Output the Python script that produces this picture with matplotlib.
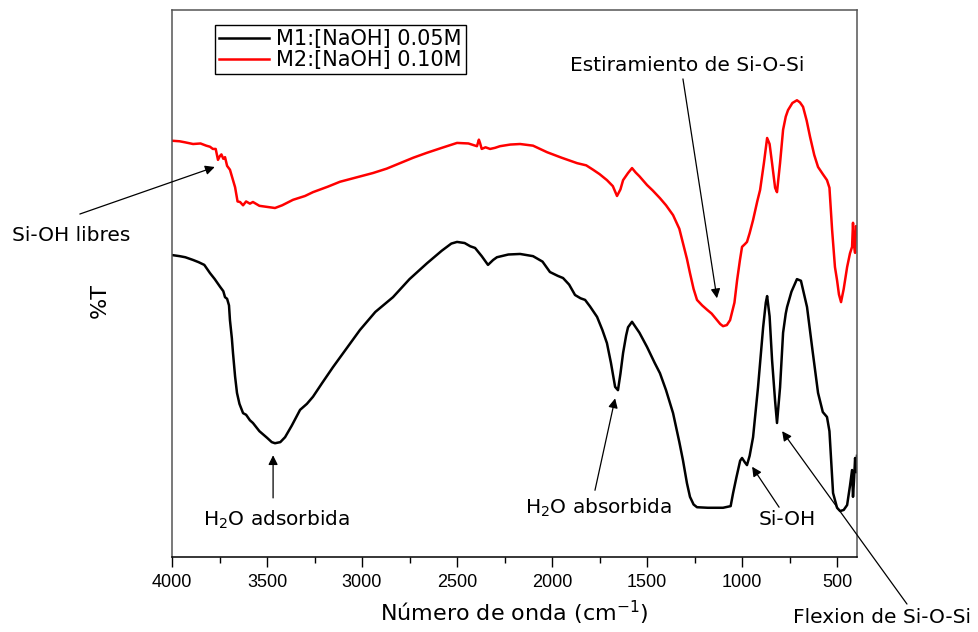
import matplotlib
matplotlib.use("Agg")
import matplotlib.pyplot as plt
from matplotlib.ticker import MultipleLocator

# ---- data (wavenumber cm^-1, %T arbitrary units) ----
m1_wn = [4000, 3960, 3930, 3889, 3860, 3830, 3800, 3775, 3747, 3730, 3721, 3710,
         3700, 3695, 3685, 3679, 3668, 3658, 3645, 3626, 3610, 3590, 3574, 3540,
         3500, 3475, 3458, 3430, 3405, 3370, 3326, 3290, 3258, 3210, 3153, 3080,
         3011, 2930, 2837, 2750, 2658, 2580, 2530, 2500, 2460, 2430, 2405, 2370,
         2337, 2310, 2290, 2230, 2168, 2100, 2050, 2011, 1970, 1942, 1910, 1879,
         1850, 1826, 1800, 1763, 1735, 1711, 1690, 1668, 1653, 1640, 1626, 1610,
         1600, 1579, 1540, 1500, 1460, 1432, 1400, 1363, 1330, 1311, 1290, 1274,
         1255, 1237, 1180, 1100, 1060, 1047, 1030, 1010, 1000, 985, 974, 960,
         942, 916, 889, 875, 868, 855, 842, 826, 816, 800, 784, 770, 763, 740,
         711, 690, 658, 630, 600, 575, 553, 540, 521, 500, 484, 465, 447, 432,
         421, 416, 410, 405, 398, 395]
m1_t = [55.2, 55.0, 54.8, 54.3, 53.9, 53.4, 51.9, 50.8, 49.4, 48.6, 47.5, 47.2,
        46.0, 43.3, 40.0, 37.3, 33.0, 30.0, 28.0, 26.3, 26.0, 25.0, 24.5, 23.0,
        21.8, 21.0, 20.8, 21.0, 21.9, 24.0, 26.9, 28.0, 29.3, 31.8, 34.7, 38.2,
        41.5, 44.8, 47.5, 50.8, 53.7, 56.0, 57.3, 57.6, 57.4, 56.8, 56.5, 55.0,
        53.4, 54.3, 54.8, 55.3, 55.4, 55.0, 54.0, 52.1, 51.4, 51.0, 49.8, 47.9,
        47.3, 47.0, 45.8, 43.9, 41.5, 39.1, 35.5, 31.1, 30.5, 33.5, 37.3, 40.5,
        42.0, 43.0, 41.0, 38.4, 35.5, 33.6, 30.5, 26.3, 21.0, 17.7, 13.5, 11.0,
        9.6, 9.1, 9.0, 9.0, 9.3, 11.7, 14.5, 17.6, 18.1, 17.3, 16.8, 18.5,
        21.9, 31.0, 42.0, 46.5, 47.7, 44.0, 36.0, 28.5, 24.5, 31.0, 41.0, 44.5,
        45.7, 48.5, 50.8, 50.5, 45.7, 38.0, 30.0, 26.5, 25.6, 23.0, 11.7, 9.0,
        8.4, 8.6, 9.5, 13.0, 15.9, 11.0, 14.5, 18.1, 15.5, 18.5]

m2_wn = [4000, 3960, 3930, 3889, 3850, 3820, 3800, 3785, 3770, 3758, 3748, 3740,
         3730, 3721, 3710, 3695, 3680, 3668, 3655, 3642, 3626, 3610, 3590, 3574,
         3540, 3500, 3458, 3420, 3363, 3300, 3258, 3180, 3116, 3030, 2942, 2870,
         2800, 2730, 2658, 2580, 2500, 2440, 2395, 2385, 2379, 2370, 2350, 2326,
         2300, 2274, 2220, 2168, 2100, 2026, 1950, 1868, 1820, 1784, 1750, 1711,
         1680, 1658, 1640, 1626, 1600, 1579, 1560, 1540, 1500, 1470, 1432, 1400,
         1363, 1330, 1311, 1290, 1274, 1255, 1237, 1210, 1184, 1160, 1132, 1115,
         1100, 1080, 1063, 1040, 1026, 1011, 1000, 985, 974, 960, 942, 920,
         905, 885, 868, 855, 842, 826, 816, 800, 784, 770, 758, 735, 711, 695,
         679, 660, 642, 620, 600, 575, 553, 540, 526, 511, 500, 490, 479, 465,
         447, 432, 421, 416, 411, 405, 400, 395]
m2_t = [76.1, 76.0, 75.8, 75.5, 75.6, 75.2, 75.0, 74.6, 74.6, 72.6, 73.3, 73.6,
        72.8, 73.1, 71.5, 70.8, 69.0, 67.6, 65.0, 64.9, 64.3, 65.0, 64.6, 64.9,
        64.2, 64.0, 63.8, 64.3, 65.3, 66.0, 66.7, 67.7, 68.6, 69.4, 70.2, 71.0,
        72.0, 73.0, 73.9, 74.8, 75.7, 75.6, 75.1, 76.3, 75.7, 74.6, 74.9, 74.6,
        74.8, 75.1, 75.4, 75.5, 75.2, 74.0, 73.0, 72.0, 71.6, 70.8, 70.0, 68.9,
        67.8, 66.0, 67.2, 68.9, 70.2, 71.1, 70.3, 69.6, 68.0, 67.0, 65.6, 64.3,
        62.5, 60.0, 57.4, 54.5, 51.9, 49.0, 47.0, 46.0, 45.2, 44.5, 43.3, 42.6,
        42.2, 42.4, 43.3, 46.5, 50.6, 54.3, 56.7, 57.2, 57.6, 59.2, 61.6, 65.0,
        67.1, 72.0, 76.6, 75.5, 72.0, 67.5, 66.7, 72.0, 78.1, 80.5, 81.7, 83.0,
        83.5, 83.1, 82.3, 79.8, 76.8, 73.5, 71.3, 70.0, 68.9, 67.5, 59.8, 53.0,
        50.6, 48.0, 46.6, 49.0, 53.0, 55.5, 56.7, 61.1, 57.0, 55.6, 60.5, 59.8]

labels = ["M1:[NaOH] 0.05M", "M2:[NaOH] 0.10M"]
colors = ["black", "#ff0000"]
xticks = [4000, 3500, 3000, 2500, 2000, 1500, 1000, 500]

# annotations: (text, text_pos, arrow_tail, arrow_head) in data coordinates
annotations = [
    ("Si-OH libres", (4530, 58.7), (4485, 62.7), (3775, 71.3)),
    ("Estiramiento de Si-O-Si", (1290, 89.9), (1311, 87.4), (1132, 47.3)),
    ("H$_2$O adsorbida", (3450, 6.8), (3468, 10.8), (3468, 18.6)),
    ("H$_2$O absorbida", (1758, 9.0), (1774, 12.2), (1668, 29.0)),
    ("Si-OH", (763, 6.8), (805, 9.1), (947, 16.5)),
    ("Flexion de Si-O-Si", (262, -11.0), (132, -8.6), (789, 23.0)),
]

W, H = 979, 632
fig = plt.figure(figsize=(W / 100, H / 100), dpi=100)
ax = fig.add_axes([172 / W, 1 - 557 / H, (857 - 172) / W, (557 - 10) / H])

ax.plot(m1_wn, m1_t, color=colors[0], lw=1.8, label=labels[0], solid_joinstyle="round")
ax.plot(m2_wn, m2_t, color=colors[1], lw=1.8, label=labels[1], solid_joinstyle="round")

ax.set_xlim(4000, 395)
ax.set_ylim(0, 100)
ax.set_xticks(xticks)
ax.xaxis.set_minor_locator(MultipleLocator(250))
ax.set_yticks([])
ax.tick_params(axis="x", which="major", direction="out", length=7, width=1.0,
               labelsize=13, pad=5)
ax.tick_params(axis="x", which="minor", direction="out", length=4, width=1.0)
for lab in ax.get_xticklabels():
    lab.set_family("Liberation Sans")

for side in ["left", "top", "right"]:
    ax.spines[side].set_color("#555555")
    ax.spines[side].set_linewidth(1.1)
ax.spines["bottom"].set_color("black")
ax.spines["bottom"].set_linewidth(1.1)

ax.set_xlabel("Número de onda (cm$^{-1}$)", fontsize=16, family="DejaVu Sans", labelpad=6)
fig.text(100 / W, 1 - 300 / H, "%T", rotation=90, fontsize=16, family="DejaVu Sans",
         ha="center", va="center")

for txt, tpos, tail, head in annotations:
    ax.text(tpos[0], tpos[1], txt, fontsize=14.5, family="DejaVu Sans",
            ha="center", va="center", clip_on=False)
    ax.annotate("", xy=head, xytext=tail, xycoords="data", textcoords="data",
                annotation_clip=False,
                arrowprops=dict(arrowstyle="-|>", color="black", lw=0.9,
                                mutation_scale=14, shrinkA=0, shrinkB=0))

leg = ax.legend(loc="upper left", bbox_to_anchor=(215 / W, 1 - 25 / H),
                bbox_transform=fig.transFigure, borderaxespad=0,
                fancybox=False, edgecolor="black", framealpha=1,
                prop={"family": "DejaVu Sans", "size": 15},
                handlelength=2.4, handletextpad=0.35, borderpad=0.2,
                labelspacing=0.05)
leg.get_frame().set_linewidth(1.0)

fig.savefig("out.png", dpi=100)
